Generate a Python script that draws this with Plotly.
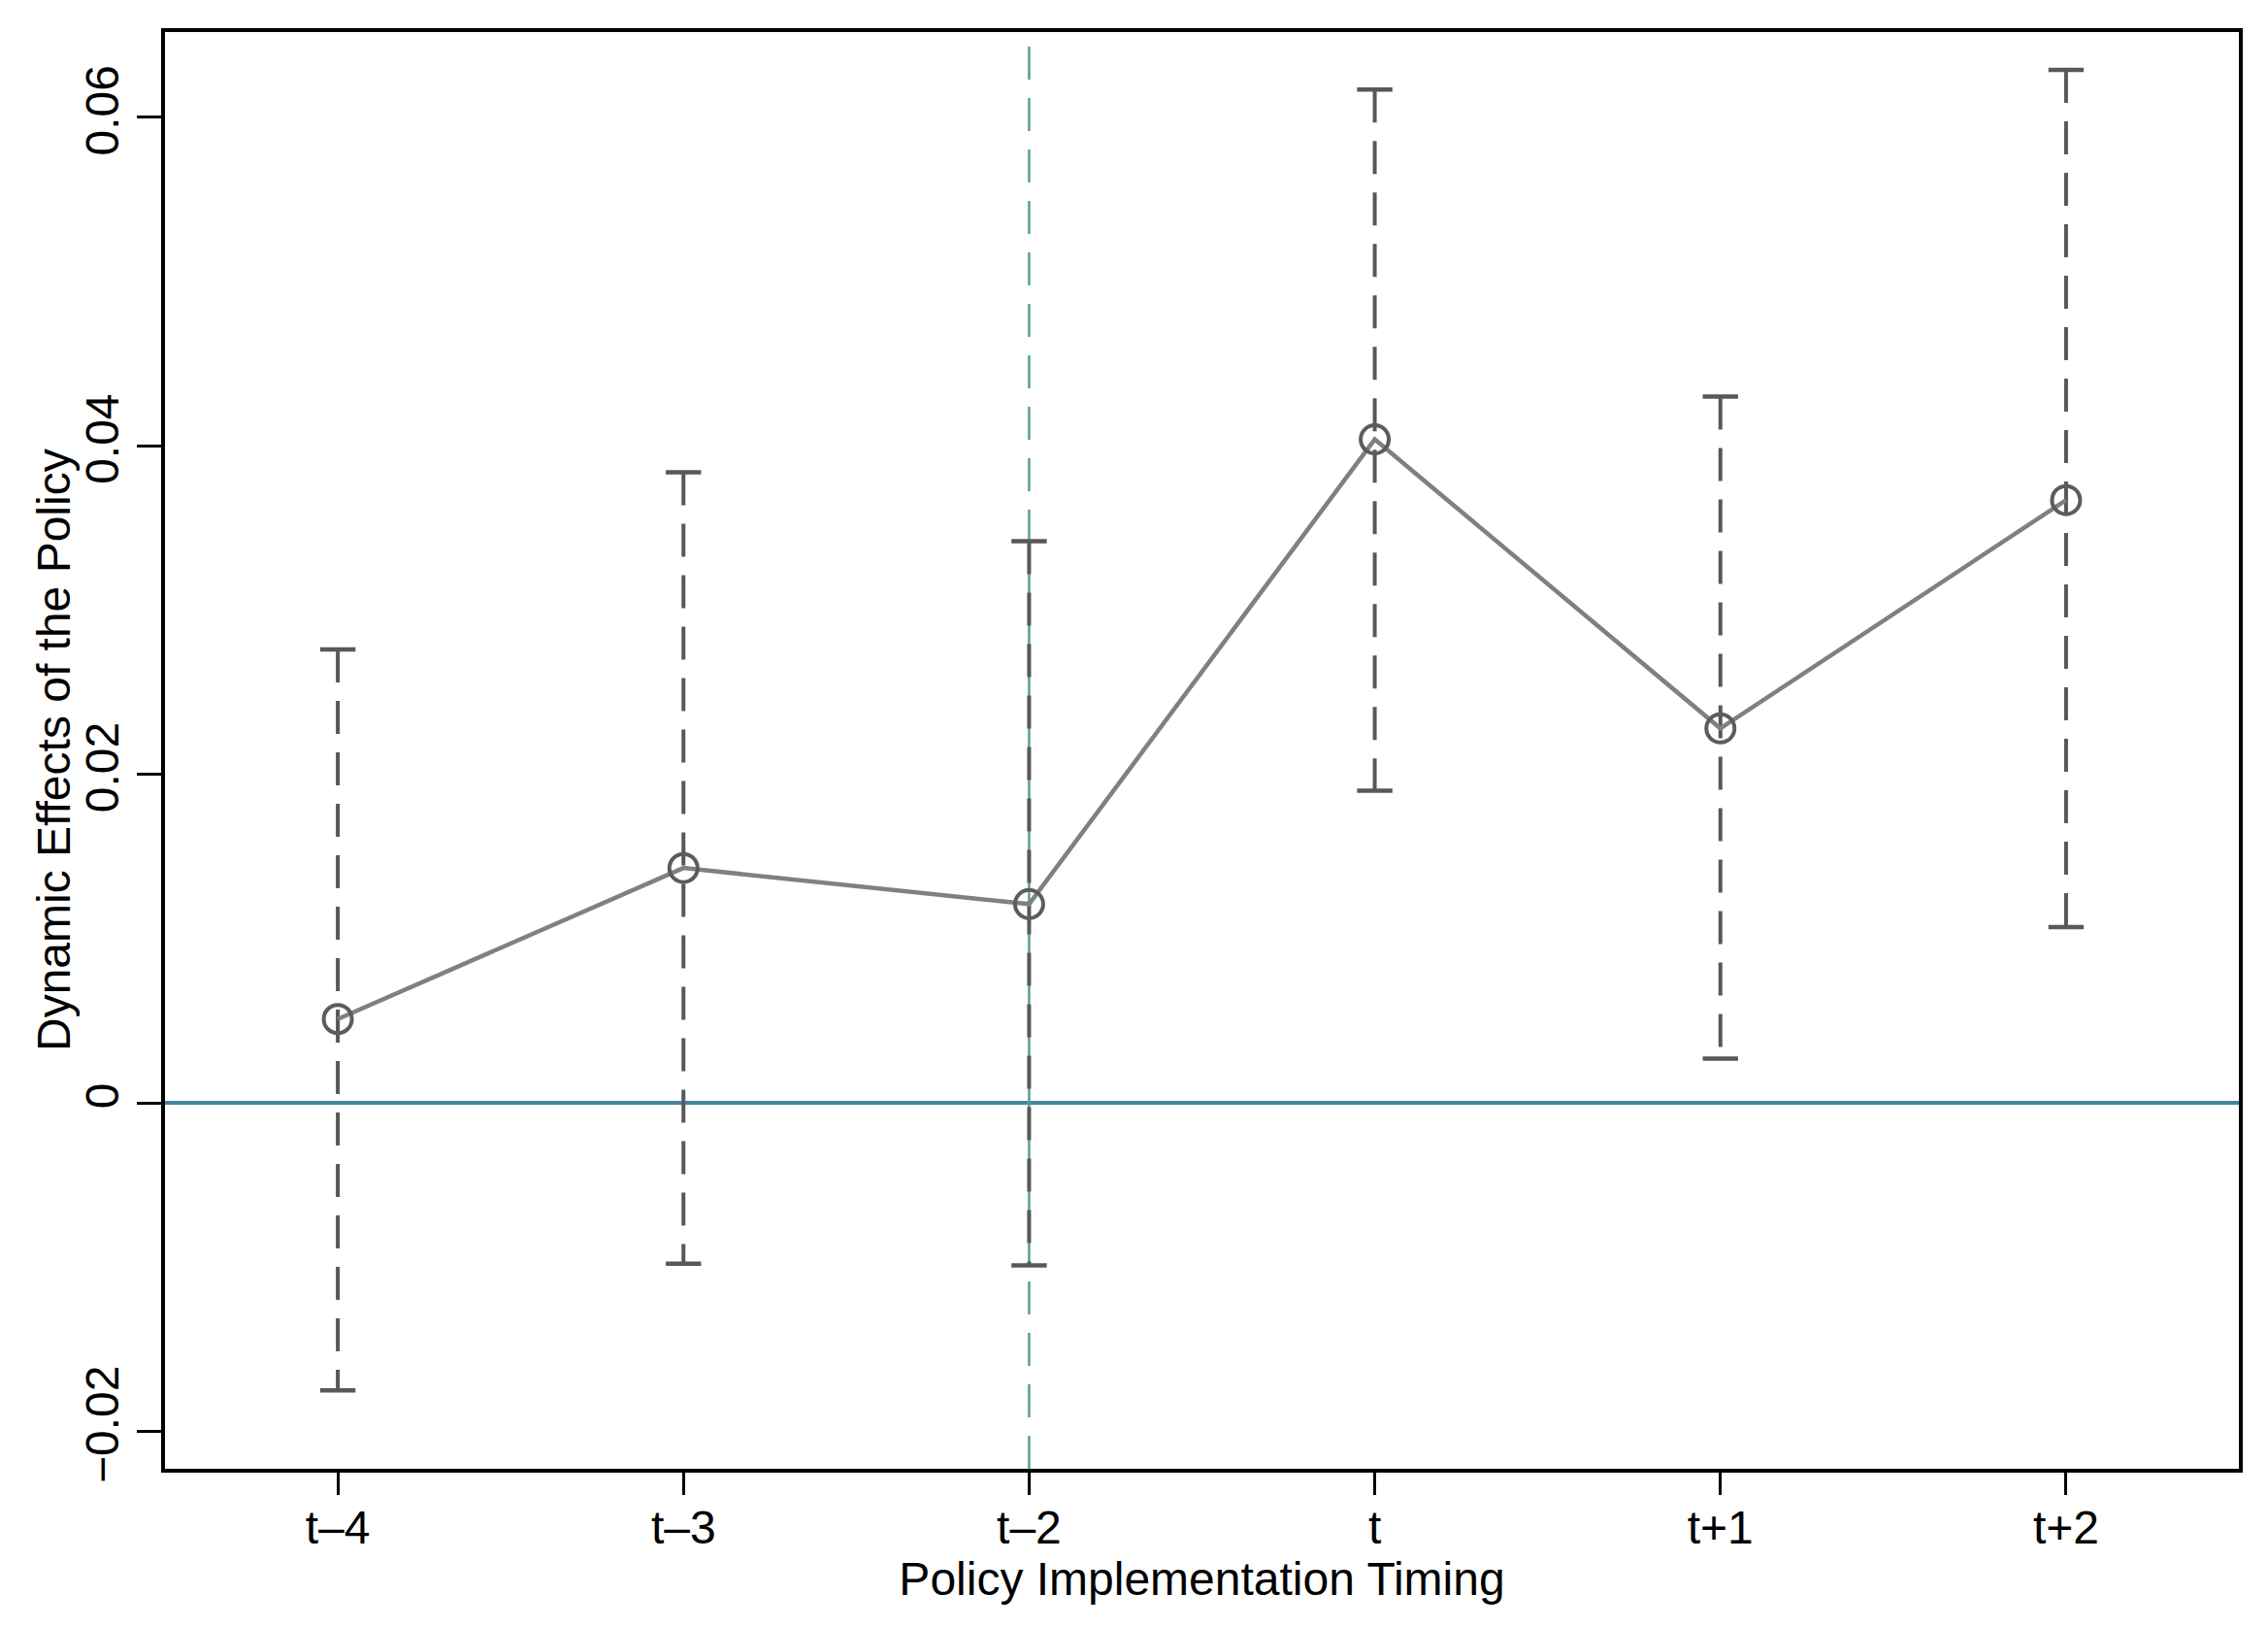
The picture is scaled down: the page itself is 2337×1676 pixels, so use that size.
import plotly.graph_objects as go

# ---- data ----
periods = ["t\u20134", "t\u20133", "t\u20132", "t", "t+1", "t+2"]
coef = [0.0051, 0.0143, 0.0121, 0.0404, 0.0228, 0.0367]
ci_upper = [0.0276, 0.0384, 0.0342, 0.0617, 0.0430, 0.0629]
ci_lower = [-0.0175, -0.0098, -0.0099, 0.0190, 0.0027, 0.0107]
ytick_vals = [-0.02, 0, 0.02, 0.04, 0.06]
ytick_text = ["\u22120.02", "0", "0.02", "0.04", "0.06"]
policy_period = "t\u20132"
y_title = "Dynamic Effects of the Policy"
x_title = "Policy Implementation Timing"

xpos = list(range(len(periods)))
policy_x = periods.index(policy_period)

FONT = "Liberation Sans, Arial, Helvetica, sans-serif"
BAR_COLOR = "#585858"
FS = 48

fig = go.Figure()

# dashed confidence-interval bars (one trace per bar so dash restarts at caps)
for i in range(len(periods)):
    fig.add_trace(go.Scatter(
        x=[xpos[i], xpos[i]], y=[ci_upper[i], ci_lower[i]],
        mode="lines+markers",
        line=dict(color=BAR_COLOR, width=4, dash="34px,19px"),
        marker=dict(symbol="line-ew", size=26, line=dict(color=BAR_COLOR, width=4.5)),
        showlegend=False, hoverinfo="skip"))

# point estimates line
fig.add_trace(go.Scatter(
    x=xpos, y=coef, mode="lines+markers",
    line=dict(color="#808080", width=4.5),
    marker=dict(symbol="circle-open", size=29, color="#5c5c5c",
                line=dict(color="#5c5c5c", width=4)),
    showlegend=False))

# reference lines
fig.add_hline(y=0, line=dict(color="#4583a3", width=4), layer="below")
fig.add_vline(x=policy_x, line=dict(color="#5a9e8e", width=2.5, dash="34px,19px"), layer="below")

# y-axis title as rotated text placed next to the axis
fig.add_annotation(text=y_title, xref="paper", yref="paper", x=0, y=0.5,
                   xanchor="center", yanchor="middle", textangle=-90,
                   xshift=-115, showarrow=False,
                   font=dict(family=FONT, size=FS, color="black"))

fig.update_layout(
    width=2337, height=1676,
    margin=dict(l=162, r=38, t=25, b=171),
    paper_bgcolor="white", plot_bgcolor="white",
    font=dict(family=FONT, size=FS, color="black"),
    xaxis=dict(
        range=[-0.5, 5.5],
        tickmode="array", tickvals=xpos, ticktext=periods,
        showgrid=False, zeroline=False,
        showline=True, linecolor="black", linewidth=4, mirror=True,
        ticks="outside", ticklen=23, tickwidth=3, tickcolor="black",
        ticklabelstandoff=-8,
        tickfont=dict(family=FONT, size=FS),
        title=dict(text=x_title, font=dict(family=FONT, size=FS), standoff=6),
    ),
    yaxis=dict(
        range=[-0.02228, 0.0652],
        tickmode="array", tickvals=ytick_vals, ticktext=ytick_text,
        tickangle=-90,
        showgrid=False, zeroline=False,
        showline=True, linecolor="black", linewidth=4, mirror=True,
        ticks="outside", ticklen=25, tickwidth=3, tickcolor="black",
        tickfont=dict(family=FONT, size=FS),
    ),
)

fig.write_html("out.html")
